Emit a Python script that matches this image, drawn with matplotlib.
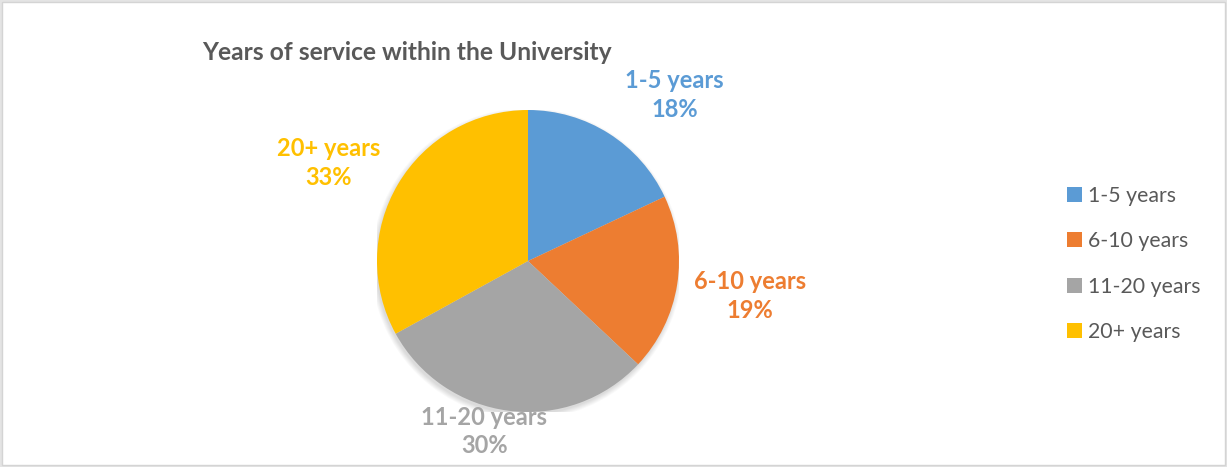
import matplotlib.pyplot as plt
from matplotlib.patches import Rectangle, Patch, Circle

# years of service, share of staff (%)
groups = ['1-5 years', '6-10 years', '11-20 years', '20+ years']
shares = [18, 19, 30, 33]
colors = ['#5B9BD5', '#ED7D31', '#A5A5A5', '#FFC000']

# where each data label sits, in pie radius units
label_xy = [(0.97, 1.10), (1.47, -0.23), (-0.29, -1.13), (-1.32, 0.65)]

plt.rcParams['font.family'] = ['Lato', 'DejaVu Sans']

W, H = 1227, 467
fig = plt.figure(figsize=(W / 100, H / 100), dpi=100, facecolor='#e4e4e4')

# white chart area with a thin grey frame
fig.patches.append(Rectangle((2 / W, 2 / H), (W - 4) / W, (H - 4) / H,
                             transform=fig.transFigure, facecolor='white',
                             edgecolor='#d4d4d4', lw=1.0, zorder=-5))

cx, cy, r = 528, 261, 151
ax = fig.add_axes([(cx - r) / W, (H - cy - r) / H, 2 * r / W, 2 * r / H])

# soft drop shadow under the disc
for k in range(6):
    ax.add_patch(Circle((-0.008, -0.018), 1.0 + 0.006 * k, facecolor='black',
                        edgecolor='none', alpha=0.025, zorder=0))

ax.pie(shares, colors=colors, startangle=90, counterclock=False, radius=1,
       wedgeprops=dict(linewidth=0, zorder=2))
# pie() resets the limits to +-1.25, pin them so the disc fills the axes
ax.set_xlim(-1, 1)
ax.set_ylim(-1, 1)
ax.set_aspect('equal')
ax.axis('off')

for (x, y), g, s, c in zip(label_xy, groups, shares, colors):
    ax.text(x, y, f'{g}\n{s}%', ha='center', va='center', color=c,
            fontsize=17, fontweight='bold', linespacing=1.3, clip_on=False,
            zorder=3)

fig.text(202 / W, 1 - 53 / H, 'Years of service within the University',
         ha='left', va='center', fontsize=17.7, fontweight='bold', color='#595959')

handles = [Patch(facecolor=c, edgecolor='none') for c in colors]
fig.legend(handles, groups, loc='center left',
           bbox_to_anchor=(1048 / W, 1 - 264 / H), frameon=False,
           fontsize=15.3, labelcolor='#595959', handlelength=0.7,
           handleheight=0.7, handletextpad=0.3, labelspacing=1.2)

fig.savefig('out.png', dpi=100, facecolor=fig.get_facecolor())
